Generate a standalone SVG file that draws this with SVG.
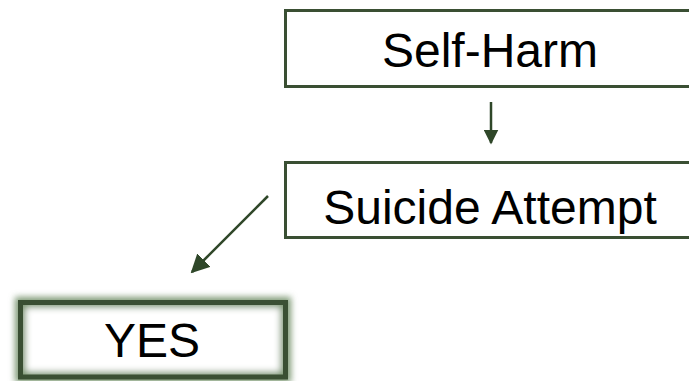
<svg xmlns="http://www.w3.org/2000/svg" width="689" height="381" viewBox="0 0 689 381">
  <style>
    .box { fill: #ffffff; stroke: #3a4f33; stroke-width: 3; }
    .label { font-family: "Liberation Sans", Arial, sans-serif; font-size: 48px; fill: #000000; text-anchor: middle; }
    .conn { stroke: #2f4729; stroke-width: 2.5; fill: none; }
  </style>
  <defs>
    <marker id="arrowhead" viewBox="0 0 10 10" refX="9" refY="5" markerWidth="6" markerHeight="6" markerUnits="strokeWidth" orient="auto">
      <path d="M0,0 L10,5 L0,10 Z" fill="#2f4729"/>
    </marker>
    <marker id="arrowhead-lg" viewBox="0 0 10 10" refX="9" refY="5" markerWidth="7.5" markerHeight="7.5" markerUnits="strokeWidth" orient="auto">
      <path d="M0,0 L10,5 L0,10 Z" fill="#2f4729"/>
    </marker>
    <filter id="glow" x="-20%" y="-40%" width="140%" height="180%">
      <feGaussianBlur stdDeviation="3"/>
    </filter>
  </defs>
  <rect width="689" height="381" fill="#ffffff"/>

  <g id="self-harm">
    <rect class="box" x="285.5" y="10.5" width="410" height="76"/>
    <text class="label" x="490" y="67">Self-Harm</text>
  </g>

  <g id="suicide-attempt">
    <rect class="box" x="285.5" y="162.5" width="410" height="75"/>
    <text class="label" x="490" y="224">Suicide Attempt</text>
  </g>

  <g id="yes">
    <rect x="20.5" y="302.5" width="265" height="74.5" fill="#ffffff" stroke="#7f9a76" stroke-width="11" filter="url(#glow)"/>
    <rect x="20.5" y="302.5" width="265" height="74.5" fill="none" stroke="#3a4f33" stroke-width="5"/>
    <text class="label" x="152" y="357">YES</text>
  </g>

  <g id="connectors">
    <line class="conn" x1="491" y1="102" x2="491" y2="143" marker-end="url(#arrowhead)"/>
    <line class="conn" x1="268" y1="196" x2="192" y2="272" marker-end="url(#arrowhead-lg)"/>
  </g>
</svg>
